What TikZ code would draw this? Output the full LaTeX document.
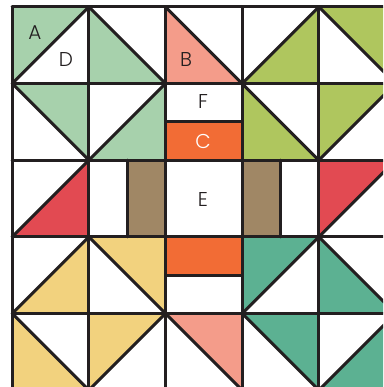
\documentclass[tikz,border=0pt]{standalone}
\usepackage{fontspec}
\setmainfont{Poppins Light}
\definecolor{lgreen}{HTML}{A7D1AC}
\definecolor{salmon}{HTML}{F49C8A}
\definecolor{lime}{HTML}{AFC65E}
\definecolor{qorange}{HTML}{F26C35}
\definecolor{qred}{HTML}{E24A52}
\definecolor{brown}{HTML}{A08765}
\definecolor{qyellow}{HTML}{F2D27E}
\definecolor{teal}{HTML}{5CB192}
\definecolor{ink}{HTML}{231F20}
\def\S{76.65}
\def\XO{12.2}
\def\YO{6.9}
\newcommand\qcell[3]{% col row code
  \begin{scope}[shift={({\XO+\S*#1},{\YO+\S*#2})}]#3\end{scope}}
\newcommand\qTL[3]{\qcell{#1}{#2}{\fill[#3] (0,0)--(\S,0)--(0,\S)--cycle;\draw[seam] (0,\S)--(\S,0);}}
\newcommand\qTR[3]{\qcell{#1}{#2}{\fill[#3] (0,0)--(\S,0)--(\S,\S)--cycle;\draw[seam] (0,0)--(\S,\S);}}
\newcommand\qBL[3]{\qcell{#1}{#2}{\fill[#3] (0,0)--(0,\S)--(\S,\S)--cycle;\draw[seam] (0,0)--(\S,\S);}}
\newcommand\qBR[3]{\qcell{#1}{#2}{\fill[#3] (\S,0)--(\S,\S)--(0,\S)--cycle;\draw[seam] (0,\S)--(\S,0);}}
\tikzset{
  seam/.style={draw=ink,line width=3pt,line cap=round},
  lbl/.style={font=\fontsize{20}{20}\selectfont,text=ink,inner sep=0pt},
  lblw/.style={lbl,text=white}
}
\begin{document}
\begin{tikzpicture}[x=1pt,y=-1pt]
\useasboundingbox (0,0) rectangle (383,387);
\clip (0,0) rectangle (383,387);
\fill[white] (0,0) rectangle (383,387);
% half-square triangles
\qTL{0}{0}{lgreen}
\qBL{1}{0}{lgreen}
\qBL{2}{0}{salmon}
\qBR{3}{0}{lime}
\qTR{4}{0}{lime}
\qTR{0}{1}{lgreen}
\qBR{1}{1}{lgreen}
\qBL{3}{1}{lime}
\qTL{4}{1}{lime}
\qBR{0}{2}{qred}
\qTL{4}{2}{qred}
\qBR{0}{3}{qyellow}
\qTR{1}{3}{qyellow}
\qTL{3}{3}{teal}
\qBL{4}{3}{teal}
\qBL{0}{4}{qyellow}
\qTL{1}{4}{qyellow}
\qTR{2}{4}{salmon}
\qTR{3}{4}{teal}
\qBR{4}{4}{teal}
% rectangles
\qcell{2}{1}{\fill[qorange] (0,\S/2) rectangle (\S,\S); \draw[seam] (0,\S/2)--(\S,\S/2);}
\qcell{1}{2}{\fill[brown] (\S/2,0) rectangle (\S,\S); \draw[seam] (\S/2,0)--(\S/2,\S);}
\qcell{3}{2}{\fill[brown] (0,0) rectangle (\S/2,\S); \draw[seam] (\S/2,0)--(\S/2,\S);}
\qcell{2}{3}{\fill[qorange] (0,0) rectangle (\S,\S/2); \draw[seam] (0,\S/2)--(\S,\S/2);}
% grid
\foreach \i in {0,...,5}{
  \draw[seam] ({\XO+\S*\i},\YO) -- ({\XO+\S*\i},{\YO+5*\S});
  \draw[seam] (\XO,{\YO+\S*\i}) -- ({\XO+5*\S},{\YO+\S*\i});
}
% labels
\node[lbl] (A) at (35,33) {A};
\node[lbl] (D) at (66,60) {D};
\node[lbl] (B) at (186,60) {B};
\node[lbl] (F) at (203,102) {F};
\node[lblw] (C) at (203,141) {C};
\node[lbl] (E) at (203,199) {E};
\end{tikzpicture}
\end{document}
